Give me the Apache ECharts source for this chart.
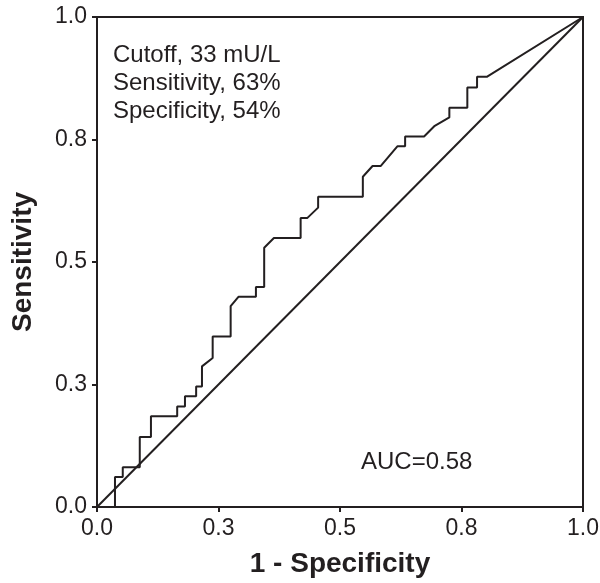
<!DOCTYPE html>
<html>
<head>
<meta charset="utf-8">
<script src="https://cdn.jsdelivr.net/npm/echarts@6/dist/echarts.min.js"></script>
<style>
html,body{margin:0;padding:0;background:#fff;}
#chart{width:600px;height:583px;}
</style>
</head>
<body>
<div id="chart"></div>
<script>
// ROC curve points
const fpr = [0, 0.037, 0.037, 0.053, 0.053, 0.088, 0.088, 0.111, 0.111, 0.165, 0.165, 0.181, 0.181, 0.204, 0.204, 0.216, 0.216, 0.238, 0.238, 0.275, 0.275, 0.291, 0.327, 0.327, 0.344, 0.344, 0.364, 0.419, 0.419, 0.433, 0.455, 0.455, 0.547, 0.547, 0.567, 0.584, 0.618, 0.634, 0.634, 0.673, 0.695, 0.725, 0.725, 0.762, 0.762, 0.782, 0.782, 0.802, 1];
const tpr = [0, 0, 0.061, 0.061, 0.081, 0.081, 0.143, 0.143, 0.185, 0.185, 0.205, 0.205, 0.226, 0.226, 0.246, 0.246, 0.287, 0.304, 0.348, 0.348, 0.410, 0.429, 0.429, 0.449, 0.449, 0.529, 0.549, 0.549, 0.590, 0.590, 0.611, 0.633, 0.633, 0.674, 0.696, 0.696, 0.736, 0.736, 0.756, 0.756, 0.778, 0.795, 0.815, 0.815, 0.856, 0.856, 0.878, 0.878, 1];
const refX = [0, 1];
const refY = [0, 1];
const tickValues = [0, 0.25, 0.5, 0.75, 1];
const tickLabels = ['0.0', '0.3', '0.5', '0.8', '1.0'];
const annotationLines = ['Cutoff, 33 mU/L', 'Sensitivity, 63%', 'Specificity, 54%'];
const aucText = 'AUC=0.58';

const ink = '#231f20';
const font = '"Liberation Sans", Arial, Helvetica, sans-serif';
const fmt = v => {
  const i = tickValues.findIndex(t => Math.abs(t - v) < 1e-9);
  return i >= 0 ? tickLabels[i] : '';
};
const axisCommon = {
  type: 'value', min: 0, max: 1, interval: 0.25,
  splitLine: {show: false},
  axisLine: {show: true, onZero: false, lineStyle: {color: ink, width: 2}},
  axisTick: {show: true, length: 5, lineStyle: {color: ink, width: 2}},
  axisLabel: {formatter: fmt, color: ink, fontSize: 23, fontFamily: font},
  nameLocation: 'middle',
  nameTextStyle: {color: ink, fontSize: 28, fontWeight: 'bold', fontFamily: font}
};

const chart = echarts.init(document.getElementById('chart'), null, {renderer: 'canvas'});
chart.setOption({
  animation: false,
  backgroundColor: '#fff',
  grid: {left: 97, right: 17, top: 17, bottom: 76, show: true, borderColor: ink, borderWidth: 2,
         backgroundColor: 'transparent', containLabel: false, outerBoundsMode: 'none'},
  xAxis: Object.assign({}, axisCommon, {
    name: '1 - Specificity', nameGap: 43,
    axisLabel: Object.assign({}, axisCommon.axisLabel, {margin: 10})
  }),
  yAxis: Object.assign({}, axisCommon, {
    name: 'Sensitivity', nameGap: 60,
    axisLabel: Object.assign({}, axisCommon.axisLabel, {margin: 10})
  }),
  series: [
    {
      type: 'line', data: refX.map((x, i) => [x, refY[i]]),
      symbol: 'none', lineStyle: {color: ink, width: 2}, silent: true
    },
    {
      type: 'line', data: fpr.map((x, i) => [x, tpr[i]]),
      symbol: 'none', lineStyle: {color: ink, width: 2}, silent: true
    }
  ],
  graphic: [
    {
      type: 'text', left: 113, top: 41,
      style: {text: annotationLines.join('\n'), fill: ink, font: '24px ' + font, lineHeight: 28}
    },
    {
      type: 'text', left: 361, top: 448,
      style: {text: aucText, fill: ink, font: '24px ' + font, lineHeight: 28}
    }
  ]
});
</script>
</body>
</html>
